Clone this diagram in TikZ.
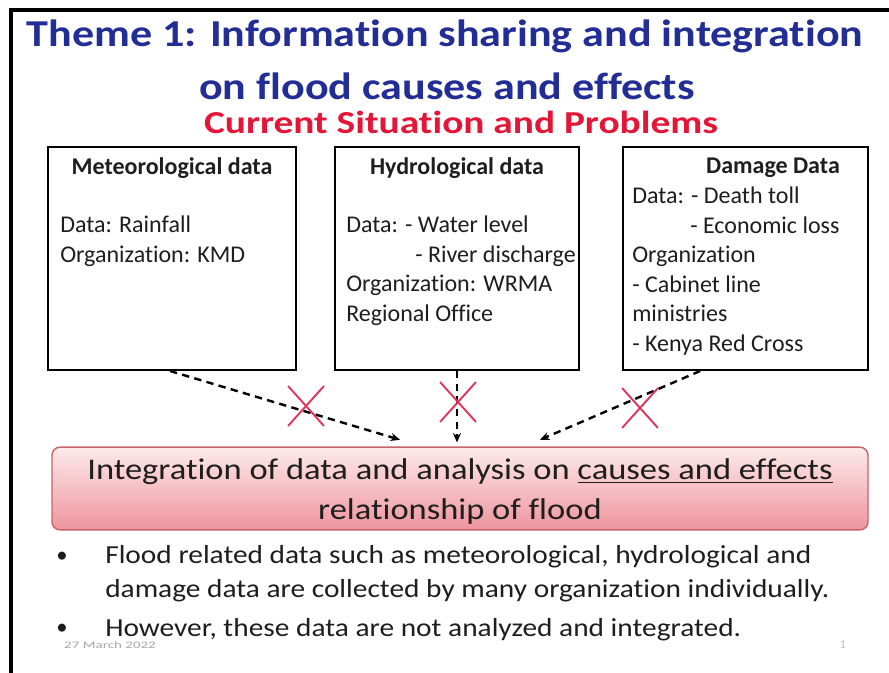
\documentclass[tikz,border=0pt]{standalone}
\usepackage{fontspec}
\setmainfont{Carlito}[Ligatures=NoCommon]
\newfontfamily\titlef{Carlito}[FakeStretch=1.16, Ligatures=NoCommon]
\newfontfamily\redf{Carlito}[FakeStretch=1.23, Ligatures=NoCommon]
\newfontfamily\integf{Carlito}[FakeStretch=1.15, Ligatures=NoCommon]
\newfontfamily\bulf{Carlito}[FakeStretch=1.13, Ligatures=NoCommon]
\newfontfamily\datef{Carlito}[FakeStretch=1.5]
\usetikzlibrary{arrows.meta,shapes.misc}
\definecolor{titleblue}{RGB}{35,45,150}
\definecolor{curred}{RGB}{228,22,55}
\definecolor{xred}{RGB}{226,50,90}
\definecolor{pinktop}{RGB}{253,234,234}
\definecolor{pinkbot}{RGB}{238,148,158}
\definecolor{pinkedge}{RGB}{200,100,105}
\definecolor{txt}{RGB}{30,30,30}
\tikzset{
  titletext/.style={font=\titlef\fontsize{28.5pt}{34pt}\selectfont\bfseries, text=titleblue, inner sep=0pt},
  redtext/.style={font=\redf\fontsize{24pt}{28pt}\selectfont\bfseries, text=curred, inner sep=0pt},
  databox/.style={draw=black, line width=1.5pt, minimum height=167.25pt, inner sep=0pt},
  boxhead/.style={font=\fontsize{18pt}{22pt}\selectfont\bfseries, text=txt, inner sep=0pt},
  boxbody/.style={font=\fontsize{18pt}{22.1pt}\selectfont, text=txt, align=left, inner sep=0pt, anchor=north west},
  noflow/.style={draw=black, line width=1.8pt, dash pattern=on 5.5pt off 4pt, -{Stealth[length=7pt,width=6pt]}},
  xmark/.style={cross out, draw=xred, line width=1.4pt, minimum width=25.5pt, minimum height=28.5pt, inner sep=0pt},
  integbox/.style={draw=pinkedge, line width=1.1pt, rounded corners=6pt, top color=pinktop, bottom color=pinkbot, minimum width=612pt, minimum height=62pt, inner sep=0pt},
  integtext/.style={font=\integf\fontsize{22.5pt}{30pt}\selectfont, text=txt, align=center},
  bullettext/.style={font=\bulf\fontsize{19.5pt}{26pt}\selectfont, text=txt, align=left, inner sep=0pt, anchor=north west},
  bulletmark/.style={font=\fontsize{17pt}{20pt}\selectfont, text=txt, inner sep=0pt}
}
\begin{document}
\begin{tikzpicture}[x=0.75pt,y=-0.75pt]
\useasboundingbox (0,0) rectangle (889,673);
\fill[white] (0,0) rectangle (889,673);
% frame
\draw[line width=3pt] (11,673) -- (11,10) -- (889,10);

% titles
\node[titletext] (t1) at (445,36) {Theme 1: Information sharing and integration};
\node[titletext] (t2) at (447,86) {on flood causes and effects};
\node[redtext] (t3) at (461,122) {Current Situation and Problems};

% data boxes
\node[databox, minimum width=186pt] (met) at (172,258.5) {};
\node[databox, minimum width=183pt] (hyd) at (457,258.5) {};
\node[databox, minimum width=183.75pt] (dam) at (745.5,258.5) {};

\node[boxhead] (methead) at (172,168) {Meteorological data};
\node[boxbody] (metbody) at (60,216) {Data: Rainfall\\Organization: KMD};

\node[boxhead] (hydhead) at (457,168) {Hydrological data};
\node[boxbody] (hydbody) at (346,216) {Data: - Water level\\\hspace*{51.75pt}- River discharge\\Organization: WRMA\\Regional Office};

\node[boxhead] (damhead) at (773,168) {Damage Data};
\node[boxbody] (dambody) at (632,187) {Data: - Death toll\\\hspace*{43.5pt}- Economic loss\\Organization\\- Cabinet line\\ministries\\- Kenya Red Cross};

% integration box
\node[integbox] (integ) at (460,488.5) {};
\node[integtext] (integtxt) at (460,492) {Integration of data and analysis on \underline{causes and effects}\\relationship of flood};

% connectors
\draw[noflow] ([xshift=-1.5pt]met.south) -- ([xshift=-45pt,yshift=5pt]integ.north);
\draw[noflow] (hyd.south) -- ([xshift=-2.25pt,yshift=3pt]integ.north);
\draw[noflow] ([xshift=-34pt]dam.south) -- ([xshift=60pt,yshift=5pt]integ.north);

% crosses
\node[xmark] (x1) at (306,406) {};
\node[xmark] (x2) at (458,402) {};
\node[xmark] (x3) at (640,408) {};

% bullets
\node[bulletmark] (b1) at (62,557) {•};
\node[bullettext] (bt1) at (105,545) {Flood related data such as meteorological, hydrological and\\damage data are collected by many organization individually.};
\node[bulletmark] (b2) at (62,629) {•};
\node[bullettext] (bt2) at (105,618) {However, these data are not analyzed and integrated.};

% footer
\node[font=\datef\fontsize{7.5pt}{8pt}\selectfont, text=gray!70, inner sep=0pt] (date) at (110,645) {27 March 2022};
\node[font=\fontsize{9pt}{10pt}\selectfont, text=gray!50, inner sep=0pt] (pagenum) at (843,645) {1};
\end{tikzpicture}
\end{document}
